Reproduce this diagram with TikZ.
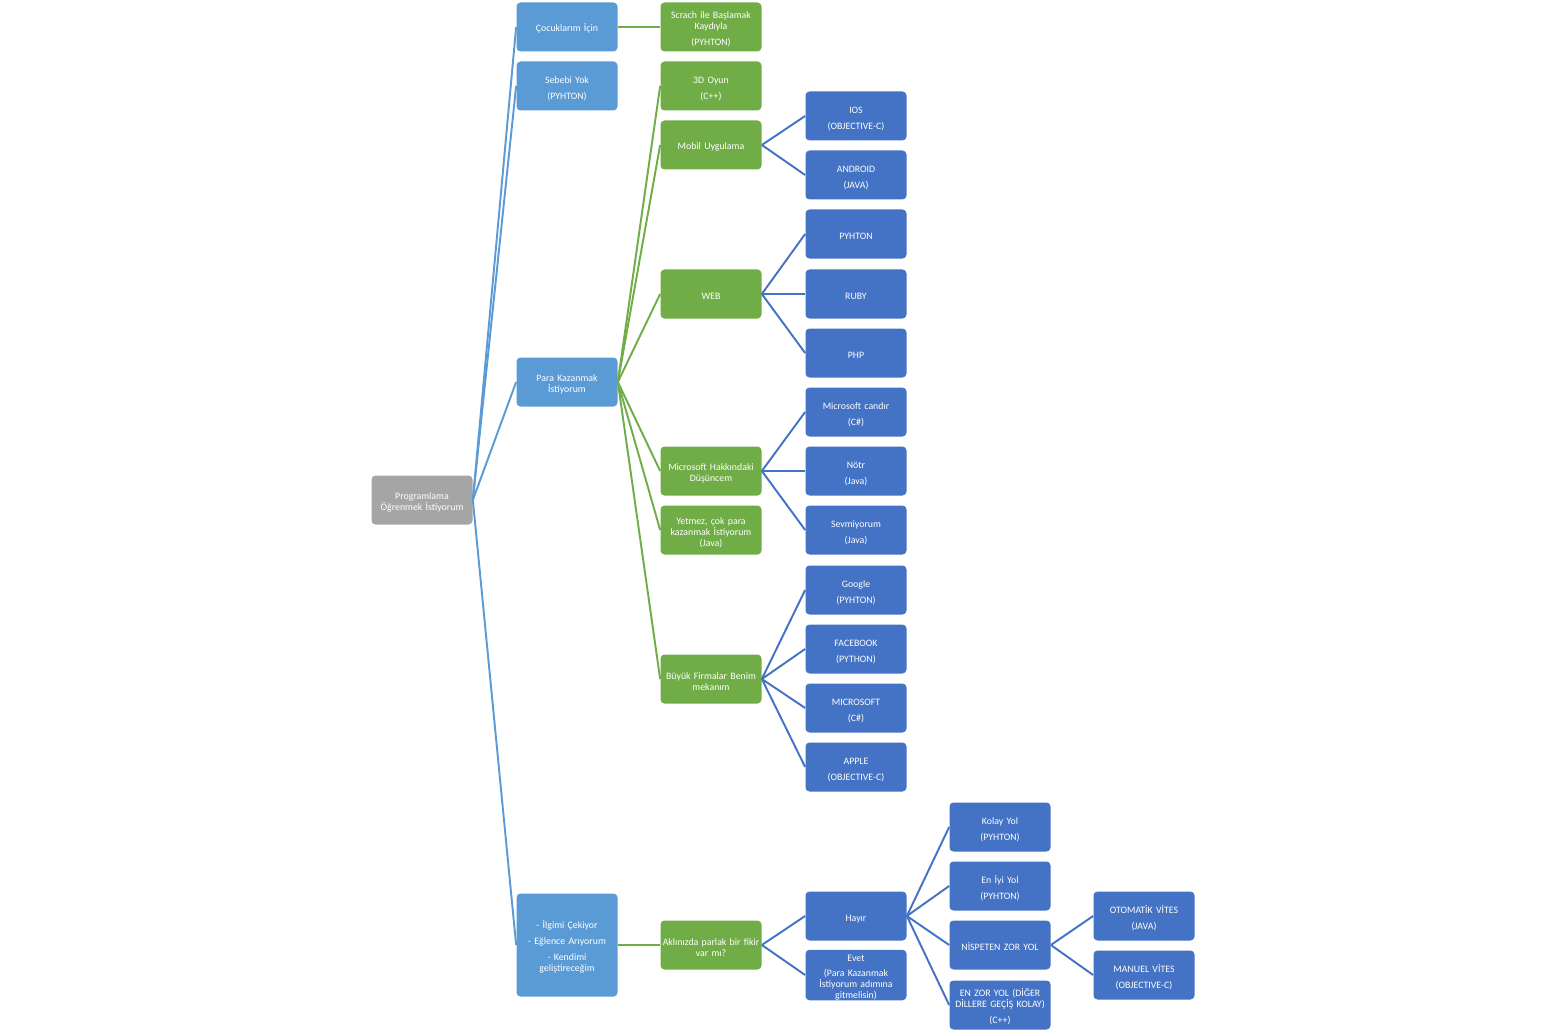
\documentclass[tikz,border=0pt]{standalone}
\usepackage{fontspec}
\setmainfont{Carlito}
\definecolor{rootgray}{HTML}{A5A5A5}
\definecolor{reasonblue}{HTML}{5B9BD5}
\definecolor{fieldgreen}{HTML}{70AD47}
\definecolor{choiceblue}{HTML}{4472C4}
\begin{document}
\begin{tikzpicture}[x=0.2mm,y=-0.2mm]
        \tikzstyle{box}=[rectangle,rounded corners=0.8mm,text=white,align=center,text width=20mm,minimum width=20.2mm,minimum height=9.8mm,inner xsep=0pt,inner ysep=0pt,font=\fontsize{5.6}{6.3}\selectfont,execute at begin node=\rule{0pt}{6.6pt}]
        \tikzstyle{start}=[box,fill=rootgray]
        \tikzstyle{reason}=[box,fill=reasonblue]
        \tikzstyle{field}=[box,fill=fieldgreen]
        \tikzstyle{choice}=[box,fill=choiceblue]
        \tikzstyle{edge}=[draw, line width=1.1pt]
        \useasboundingbox (0,0) rectangle (1568,1032);
        \begin{scope}
            % root and first level
            \node [start] (r) at (422,500) {Programlama\\Öğrenmek  İstiyorum};
            \node [reason] (r1) at (567,27) {Çocuklarım  İçin};
            \node [reason] (r2) at (567,86) {Sebebi Yok\\[1mm](PYHTON)};
            \node [reason] (r3) at (567,382) {Para Kazanmak\\İstiyorum};
            \node [reason,minimum height=20.6mm] (r4) at (567,945) {- İlgimi Çekiyor\\[1mm]- Eğlence Arıyorum\\[1mm]- Kendimi\\geliştireceğim};
            % second level
            \node [field] (f1) at (711,27) {Scrach ile Başlamak\\Kaydıyla\\[1mm](PYHTON)};
            \node [field] (f2) at (711,86) {3D Oyun\\[1mm](C++)};
            \node [field] (f3) at (711,145) {Mobil  Uygulama};
            \node [field] (f4) at (711,294) {WEB};
            \node [field] (f5) at (711,471) {Microsoft  Hakkındaki\\Düşüncem};
            \node [field] (f6) at (711,530) {Yetmez, çok para\\kazanmak İstiyorum\\(Java)};
            \node [field] (f7) at (711,679) {Büyük  Firmalar  Benim\\mekanım};
            \node [field] (f8) at (711,945) {Aklınızda  parlak  bir  fikir\\var mı?};
            % third level
            \node [choice] (c1) at (856,116) {IOS\\[1mm](OBJECTIVE-C)};
            \node [choice] (c2) at (856,175) {ANDROID\\[1mm](JAVA)};
            \node [choice] (c3) at (856,234) {PYHTON};
            \node [choice] (c4) at (856,294) {RUBY};
            \node [choice] (c5) at (856,353) {PHP};
            \node [choice] (c6) at (856,412) {Microsoft  candır\\[1mm](C\#)};
            \node [choice] (c7) at (856,471) {Nötr\\[1mm](Java)};
            \node [choice] (c8) at (856,530) {Sevmiyorum\\[1mm](Java)};
            \node [choice] (c9) at (856,590) {Google\\[1mm](PYHTON)};
            \node [choice] (c10) at (856,649) {FACEBOOK\\[1mm](PYTHON)};
            \node [choice] (c11) at (856,708) {MICROSOFT\\[1mm](C\#)};
            \node [choice] (c12) at (856,767) {APPLE\\[1mm](OBJECTIVE-C)};
            \node [choice] (c13) at (856,916) {Hayır};
            \node [choice] (c14) at (856,975) {Evet\\[0.8mm](Para  Kazanmak\\İstiyorum  adımına\\gitmelisin)};
            % fourth and fifth level
            \node [choice] (d1) at (1000,827) {Kolay Yol\\[1mm](PYHTON)};
            \node [choice] (d2) at (1000,886) {En İyi Yol\\[1mm](PYHTON)};
            \node [choice] (d3) at (1000,945) {NİSPETEN  ZOR YOL};
            \node [choice] (d4) at (1000,1005) {EN ZOR YOL (DİĞER\\DİLLERE  GEÇİŞ KOLAY)\\[1mm](C++)};
            \node [choice] (e1) at (1144,916) {OTOMATİK VİTES\\[1mm](JAVA)};
            \node [choice] (e2) at (1144,975) {MANUEL  VİTES\\[1mm](OBJECTIVE-C)};
            % connectors
            \foreach \n in {r1,r2,r3,r4}
                \path[edge,reasonblue] (r.east) edge (\n.west);
            \foreach \n in {f2,f3,f4,f5,f6,f7}
                \path[edge,fieldgreen] (r3.east) edge (\n.west);
            \path[edge,fieldgreen] (r1.east) edge (f1.west);
            \path[edge,fieldgreen] (r4.east) edge (f8.west);
            \foreach \p/\n in {f3/c1,f3/c2,f4/c3,f4/c4,f4/c5,f5/c6,f5/c7,f5/c8,f7/c9,f7/c10,f7/c11,f7/c12,f8/c13,f8/c14,c13/d1,c13/d2,c13/d3,c13/d4,d3/e1,d3/e2}
                \path[edge,choiceblue] (\p.east) edge (\n.west);
        \end{scope}
\end{tikzpicture}
\end{document}
